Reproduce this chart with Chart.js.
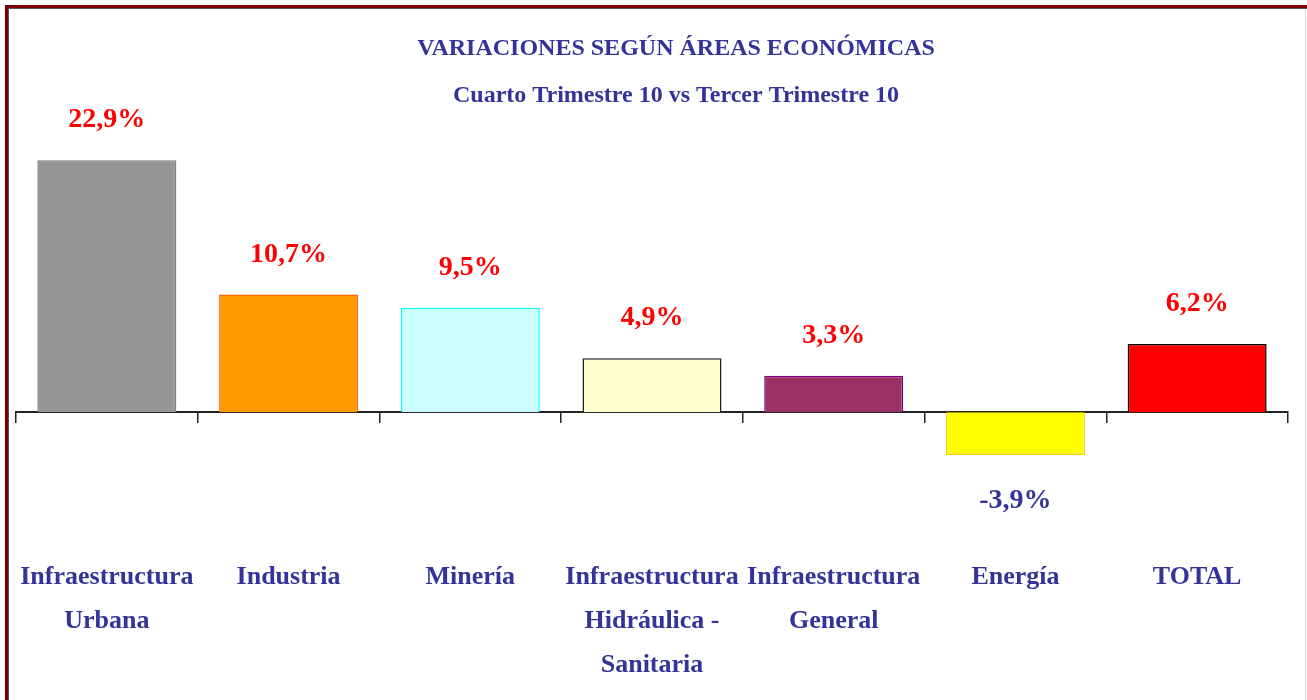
<!DOCTYPE html>
<html>
<head>
<meta charset="utf-8">
<script src="https://cdn.jsdelivr.net/npm/chart.js@4"></script>
<style>
  html, body { margin: 0; padding: 0; width: 1307px; height: 700px; overflow: hidden; background: #ffffff; }
  #frame { position: absolute; left: 5px; top: 5px; width: 1400px; height: 800px;
           border-left: 3px solid #7a0000; border-top: 3px solid #7a0000; }
  #inner { position: absolute; left: 0; top: 0; width: 100%; height: 100%;
           border-left: 1px solid #555; border-top: 1px solid #555; }
  #rline { position: absolute; left: 1305px; top: 9px; width: 1px; height: 691px; background: #d8d8d8; }
  #wrap { position: absolute; left: 0; top: 0; width: 1307px; height: 700px; }
</style>
</head>
<body>
<div id="frame"><div id="inner"></div></div>
<div id="rline"></div>
<div id="wrap"><canvas id="c" width="1307" height="700"></canvas></div>
<script>
const titleLines = ['VARIACIONES SEGÚN ÁREAS ECONÓMICAS', 'Cuarto Trimestre 10 vs Tercer Trimestre 10'];
const categories = [
  ['Infraestructura', 'Urbana'],
  ['Industria'],
  ['Minería'],
  ['Infraestructura', 'Hidráulica -', 'Sanitaria'],
  ['Infraestructura', 'General'],
  ['Energía'],
  ['TOTAL']
];
const variations = [22.9, 10.7, 9.5, 4.9, 3.3, -3.9, 6.2];
const fillColors = ['#969696', '#FF9900', '#CCFFFF', '#FFFFCC', '#993366', '#FFFF00', '#FF0000'];
const borderColors = ['#808080', '#FF6600', '#00FFFF', '#222222', '#800080', '#FFCC00', '#000000'];

const navy = '#333399';
const serif = '"Liberation Serif", "Times New Roman", serif';

// shift the title block slightly right, as in the original
const titleShift = {
  id: 'titleShift',
  afterLayout(chart) {
    const t = chart.titleBlock;
    if (t) { t.left += 24; t.right += 24; }
  }
};

const valueLabels = {
  id: 'valueLabels',
  afterDatasetsDraw(chart) {
    const ctx = chart.ctx;
    const meta = chart.getDatasetMeta(0);
    ctx.save();
    ctx.font = 'bold 28px ' + serif;
    ctx.textAlign = 'center';
    ctx.textBaseline = 'middle';
    meta.data.forEach((bar, i) => {
      const v = variations[i];
      const txt = v.toFixed(1).replace('.', ',') + '%';
      if (v >= 0) {
        ctx.fillStyle = '#FF0000';
        ctx.fillText(txt, bar.x, bar.y - 40);
      } else {
        ctx.fillStyle = navy;
        ctx.fillText(txt, bar.x, bar.y + 46);
      }
    });
    ctx.restore();
  }
};

new Chart(document.getElementById('c'), {
  type: 'bar',
  data: {
    labels: categories,
    datasets: [{
      data: variations,
      backgroundColor: fillColors,
      borderColor: borderColors,
      borderWidth: 1.5,
      barPercentage: 0.765,
      categoryPercentage: 1.0,
      xAxisID: 'x'
    }]
  },
  options: {
    responsive: false,
    animation: false,
    devicePixelRatio: 1,
    layout: { padding: { left: 16, right: 19, top: 0, bottom: 13 } },
    plugins: {
      legend: { display: false },
      tooltip: { enabled: false },
      title: {
        display: true,
        text: titleLines,
        color: navy,
        font: { family: serif, size: 24, weight: 'bold', lineHeight: 1.96 },
        padding: { top: 25, bottom: 7 }
      }
    },
    scales: {
      y: {
        display: false,
        min: -10,
        max: 26
      },
      x: {
        position: { y: 0 },
        offset: true,
        grid: {
          offset: true,
          drawOnChartArea: false,
          drawTicks: true,
          tickLength: 10,
          tickColor: '#222222',
          lineWidth: 1.5
        },
        border: { display: true, color: '#222222', width: 2 },
        ticks: { display: false }
      },
      x2: {
        type: 'category',
        labels: categories,
        position: 'bottom',
        offset: true,
        grid: { display: false, drawTicks: true, tickLength: 33 },
        border: { display: false },
        ticks: {
          color: navy,
          padding: 0,
          maxRotation: 0,
          autoSkip: false,
          font: { family: serif, size: 26, weight: 'bold', lineHeight: 1.69 }
        }
      }
    }
  },
  plugins: [titleShift, valueLabels]
});
</script>
</body>
</html>
